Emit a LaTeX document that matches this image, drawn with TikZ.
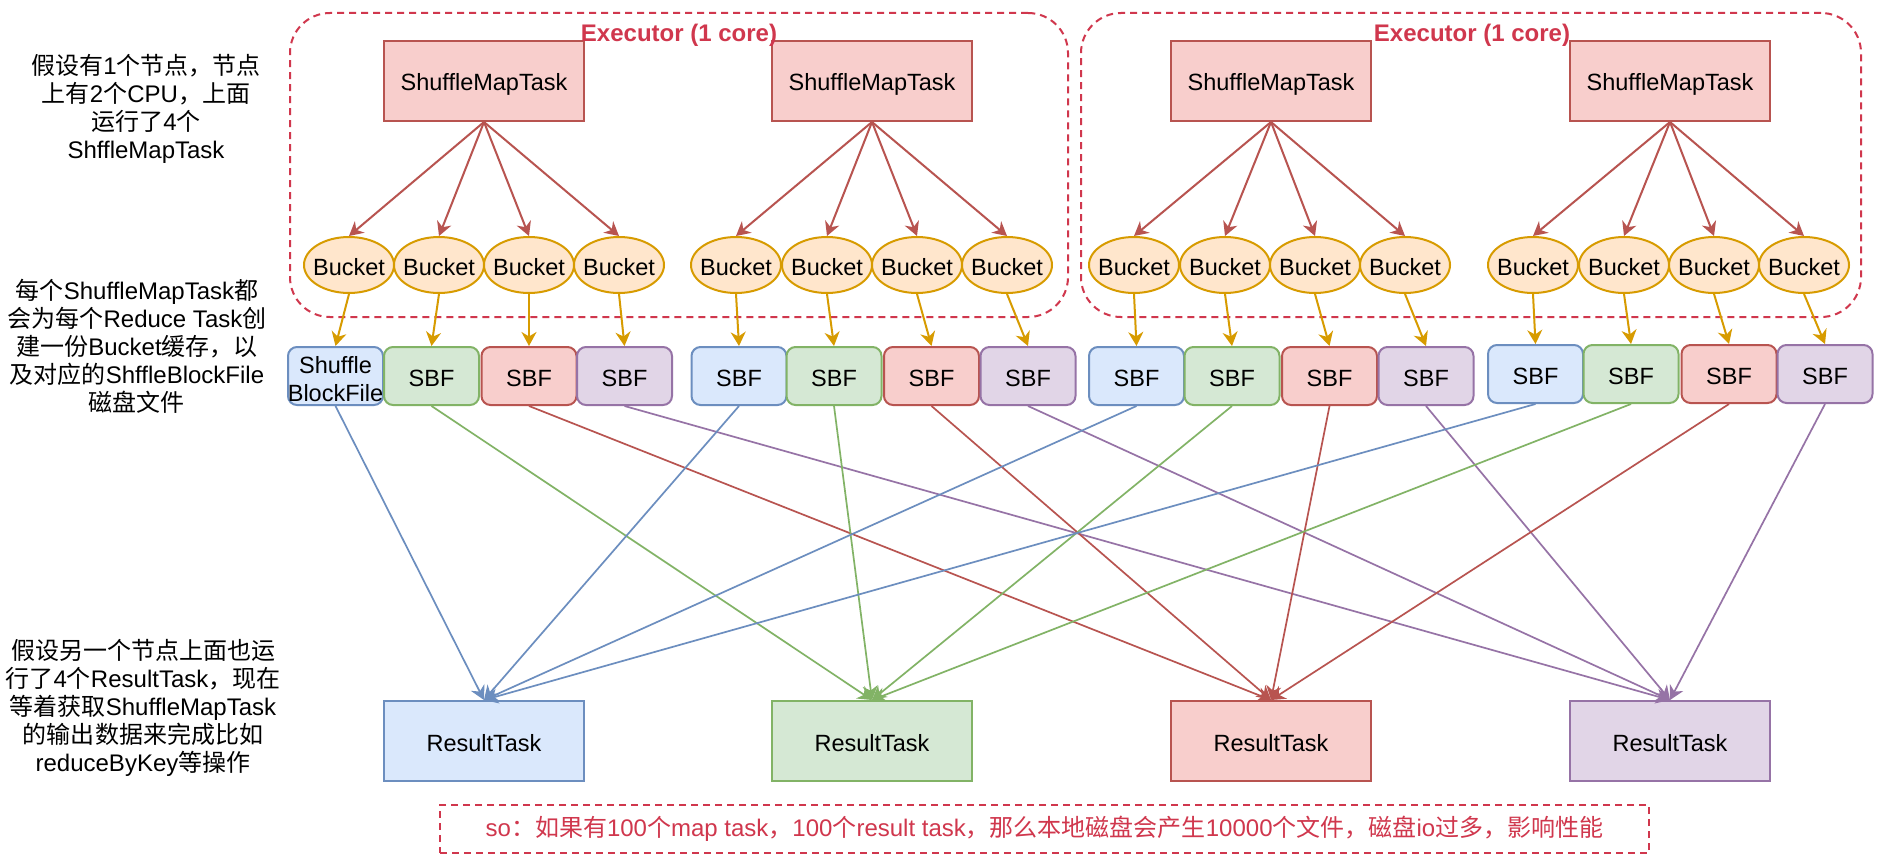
\documentclass[tikz,border=0pt]{standalone}
\usepackage{fontspec}
\setmainfont{Liberation Sans}
\newfontfamily\cjk{Noto Sans CJK SC}
\newcommand\zh[1]{{\cjk #1}}
\usetikzlibrary{arrows.meta,shapes.geometric}
\definecolor{c1f}{HTML}{DAE8FC}\definecolor{c1d}{HTML}{6C8EBF}
\definecolor{c2f}{HTML}{D5E8D4}\definecolor{c2d}{HTML}{82B366}
\definecolor{c3f}{HTML}{F8CECC}\definecolor{c3d}{HTML}{B85450}
\definecolor{c4f}{HTML}{E1D5E7}\definecolor{c4d}{HTML}{9673A6}
\definecolor{of}{HTML}{FFE6CC}\definecolor{od}{HTML}{D79B00}
\definecolor{exec}{HTML}{D0374D}
\begin{document}
\begin{tikzpicture}[x=1pt,y=-1pt,
  lbl/.style={font=\fontsize{23.5}{28}\selectfont, text height=20pt, text depth=0pt},
  txt/.style={font=\fontsize{24}{28}\selectfont, align=center, inner sep=0pt},
  task/.style={lbl, rectangle, draw, line width=2pt, minimum width=200pt, minimum height=80pt, inner sep=0pt},
  bucket/.style={lbl, ellipse, draw=od, fill=of, line width=2pt, minimum width=90pt, minimum height=56pt, inner sep=0pt},
  sbf/.style={lbl, rectangle, draw, rounded corners=9pt, line width=2pt, minimum width=95pt, minimum height=58pt, inner sep=0pt},
  execbox/.style={draw=exec, line width=2pt, dash pattern=on 7pt off 5pt, rounded corners=40pt, minimum width=778pt, minimum height=304pt},
  tip/.style={-{Stealth[length=14pt,width=15pt,inset=4.5pt]}},
]
\useasboundingbox (0,0) rectangle (1878,864);
\fill[white] (0,0) rectangle (1878,864);

% executor boxes
\node[execbox] (e1) at (679,165) {};
\node[execbox, minimum width=780pt] (e2) at (1471,165) {};

% tasks
\foreach \x [count=\i] in {484,872,1271,1670}{
  \node[task, draw=c3d, fill=c3f] (t\i) at (\x,81) {ShuffleMapTask};
  \node[task, draw=c\i d, fill=c\i f] (r\i) at (\x,741) {ResultTask};
}

% buckets and SBFs
\foreach \g/\bl/\sl/\sy in {
  1/{349,439,529,619}/{335.5,431.5,529,624.5}/376,
  2/{736,827,917,1007}/{739,834,931.5,1028}/376,
  3/{1134,1225,1315,1405}/{1136.5,1232,1329.5,1426}/376,
  4/{1533,1624,1714,1804}/{1535.5,1631,1729,1825}/374}{
  \foreach \x [count=\j] in \bl {
    \node[bucket] (b\g\j) at (\x,265) {\makebox[0pt]{Bucket}};
  }
  \foreach \x [count=\j] in \sl {
    \node[sbf, draw=c\j d, fill=c\j f] (s\g\j) at (\x,\sy) {\ifnum\g\j=11 \else SBF\fi};
  }
}
\node[txt, font=\fontsize{23.5}{28}\selectfont] (s11t) at (335.5,379) {Shuffle\\BlockFile};

% connectors
\foreach \g in {1,2,3,4}{
  \foreach \j in {1,2,3,4}{
    \draw[tip, c3d, line width=2pt] (t\g.south) -- (b\g\j.north);
    \draw[tip, od, line width=2pt] (b\g\j.south) -- (s\g\j.north);
    \draw[tip, c\j d, line width=1.7pt] (s\g\j.south) -- (r\j.north);
  }
}

% executor titles
\node[font=\bfseries\fontsize{24}{28}\selectfont, text=exec, inner sep=0pt] (et1) at (679,35) {Executor (1 core)};
\node[font=\bfseries\fontsize{24}{28}\selectfont, text=exec, inner sep=0pt] (et2) at (1472,35) {Executor (1 core)};

% left texts
\node[txt] (n1) at (146,109) {\zh{假设有}1\zh{个节点，节点}\\\zh{上有}2\zh{个}CPU\zh{，上面}\\\zh{运行了}4\zh{个}\\ShffleMapTask};
\node[txt] (n2) at (137,346) {\zh{每个}ShuffleMapTask\zh{都}\\\zh{会为每个}Reduce Task\zh{创}\\\zh{建一份}Bucket\zh{缓存，以}\\\zh{及对应的}ShffleBlockFile\\\zh{磁盘文件}};
\node[txt] (n3) at (143,708) {\zh{假设另一个节点上面也运}\\\zh{行了}4\zh{个}ResultTask\zh{，现在}\\\zh{等着获取}ShuffleMapTask\\\zh{的输出数据来完成比如}\\reduceByKey\zh{等操作}};

% note
\node[draw=exec, line width=2pt, dash pattern=on 7pt off 5pt, minimum width=1209pt, minimum height=48pt, inner sep=0pt, text=exec, font=\fontsize{24}{28}\selectfont] (note) at (1044.5,829) {so\zh{：如果有}100\zh{个}map task\zh{，}100\zh{个}result task\zh{，那么本地磁盘会产生}10000\zh{个文件，磁盘}io\zh{过多，影响性能}};
\end{tikzpicture}
\end{document}
